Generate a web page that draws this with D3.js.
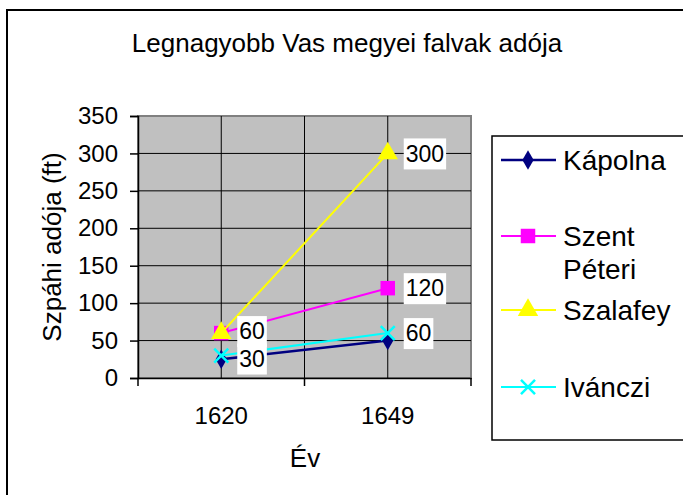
<!DOCTYPE html>
<html>
<head>
<meta charset="utf-8">
<script src="https://cdn.jsdelivr.net/npm/d3@7"></script>
<style>
  body { margin: 0; background: #fff; }
  text { font-family: "Liberation Sans", Arial, sans-serif; fill: #000; }
</style>
</head>
<body>
<svg id="chart" width="683" height="495"></svg>
<script>
const years = ['1620', '1649'];
const seriesNames = ['Kápolna', 'Szent Péteri', 'Szalafey', 'Ivánczi'];
const kapolna = [25, 50];
const szentPeteri = [60, 120];
const szalafey = [60, 300];
const ivanczi = [30, 60];
const yTicks = [0, 50, 100, 150, 200, 250, 300, 350];
// which points carry a data label: [series index, year index]
const labelPoints = [[2, 0], [3, 0], [2, 1], [1, 1], [3, 1]];

const seriesValues = [kapolna, szentPeteri, szalafey, ivanczi];
const colors = ['#000080', '#ff00ff', '#ffff00', '#00ffff'];
const symbols = [d3.symbolDiamond, d3.symbolSquare, d3.symbolTriangle, d3.symbolX];
const symSizes = [110, 210, 180, 130];

const svg = d3.select('#chart');
const plot = { left: 138, right: 471, top: 116, bottom: 378 };

// outer chart border
svg.append('rect')
  .attr('x', 7).attr('y', 10).attr('width', 700).attr('height', 500)
  .attr('fill', '#fff').attr('stroke', '#000').attr('stroke-width', 2);

svg.append('text')
  .attr('x', 347).attr('y', 52)
  .attr('text-anchor', 'middle')
  .style('font-size', '26px')
  .text('Legnagyobb Vas megyei falvak adója');

const xScale = d3.scaleBand().domain(years).range([plot.left, plot.right]).padding(0);
const yScale = d3.scaleLinear().domain([0, 350]).range([plot.bottom, plot.top]);

const g = svg.append('g');

g.append('rect')
  .attr('x', plot.left).attr('y', plot.top)
  .attr('width', plot.right - plot.left).attr('height', plot.bottom - plot.top)
  .attr('fill', '#c0c0c0').attr('stroke', '#808080').attr('stroke-width', 2);

// horizontal gridlines
g.selectAll('.hgrid')
  .data(yTicks.filter(d => d > 0 && d < 350))
  .enter().append('line')
  .attr('x1', plot.left).attr('x2', plot.right)
  .attr('y1', d => yScale(d)).attr('y2', d => yScale(d))
  .attr('stroke', '#000').attr('stroke-width', 1);

// vertical gridlines at category centers and between them
const vgrid = years.map(d => xScale(d) + xScale.bandwidth() / 2)
  .concat(years.slice(1).map(d => xScale(d)));
g.selectAll('.vgrid')
  .data(vgrid)
  .enter().append('line')
  .attr('x1', d => d).attr('x2', d => d)
  .attr('y1', plot.top).attr('y2', plot.bottom)
  .attr('stroke', '#000').attr('stroke-width', 1);

// y axis
const yAxis = d3.axisLeft(yScale).tickValues(yTicks).tickSize(8).tickPadding(12);
const gY = g.append('g').attr('transform', `translate(${plot.left},0)`).call(yAxis);
gY.select('.domain').attr('stroke', '#000').attr('stroke-width', 1.5);
gY.selectAll('.tick line').attr('stroke', '#000').attr('stroke-width', 1.5);
gY.selectAll('text').style('font-size', '24px').style('font-family', '"Liberation Sans", Arial, sans-serif');

// x axis: ticks between categories
const xAxis = d3.axisBottom(xScale).tickSize(0).tickPadding(29);
const gX = g.append('g').attr('transform', `translate(0,${plot.bottom})`).call(xAxis);
gX.select('.domain').attr('stroke', '#000').attr('stroke-width', 1.5);
gX.selectAll('text').style('font-size', '24px').style('font-family', '"Liberation Sans", Arial, sans-serif');
g.selectAll('.xtick')
  .data(years.map(d => xScale(d)).concat([plot.right]))
  .enter().append('line')
  .attr('x1', d => d).attr('x2', d => d)
  .attr('y1', plot.bottom).attr('y2', plot.bottom + 8)
  .attr('stroke', '#000').attr('stroke-width', 1.5);

// axis titles
svg.append('text')
  .attr('transform', 'translate(61,247) rotate(-90)')
  .attr('text-anchor', 'middle')
  .style('font-size', '26px')
  .text('Szpáhi adója (ft)');
svg.append('text')
  .attr('x', 305).attr('y', 467)
  .attr('text-anchor', 'middle')
  .style('font-size', '26px')
  .text('Év');

const cx = i => xScale(years[i]) + xScale.bandwidth() / 2;

const line = d3.line()
  .x((d, i) => cx(i))
  .y(d => yScale(d));

seriesValues.forEach((vals, s) => {
  g.append('path')
    .datum(vals)
    .attr('d', line)
    .attr('fill', 'none')
    .attr('stroke', colors[s])
    .attr('stroke-width', s === 0 ? 2.5 : 2);
  g.selectAll('.m' + s)
    .data(vals)
    .enter().append('path')
    .attr('transform', (d, i) => `translate(${cx(i)},${yScale(d)})`)
    .attr('d', d3.symbol().type(symbols[s]).size(symSizes[s]))
    .attr('fill', s === 3 ? 'none' : colors[s])
    .attr('stroke', colors[s])
    .attr('stroke-width', s === 3 ? 2.5 : 0);
});

// data labels with white background; the two close 1620 labels are pushed apart a little
labelPoints.forEach(([s, i]) => {
  const v = seriesValues[s][i];
  const px = cx(i);
  let py = yScale(v);
  if (i === 0) py += (s === 2 ? -2 : 3);
  const lg = g.append('g');
  const t = lg.append('text')
    .attr('x', px + 18).attr('y', py)
    .attr('dy', '0.36em')
    .style('font-size', '23px')
    .text(v);
  const w = t.node().getComputedTextLength();
  lg.insert('rect', 'text')
    .attr('x', px + 16).attr('y', py - 15)
    .attr('width', w + 4).attr('height', 31)
    .attr('fill', '#fff');
});

// legend
svg.append('rect')
  .attr('x', 492).attr('y', 136).attr('width', 220).attr('height', 304)
  .attr('fill', '#fff').attr('stroke', '#000').attr('stroke-width', 1.5);

const legendY = [160, 236, 310, 387];
seriesNames.forEach((name, s) => {
  const ly = legendY[s];
  svg.append('line')
    .attr('x1', 501).attr('x2', 556).attr('y1', ly).attr('y2', ly)
    .attr('stroke', colors[s]).attr('stroke-width', s === 0 ? 2.5 : 2);
  svg.append('path')
    .attr('transform', `translate(528,${ly})`)
    .attr('d', d3.symbol().type(symbols[s]).size(symSizes[s]))
    .attr('fill', s === 3 ? 'none' : colors[s])
    .attr('stroke', colors[s])
    .attr('stroke-width', s === 3 ? 2.5 : 0);
  const words = name.split(' ');
  const txt = svg.append('text')
    .attr('x', 563).attr('y', ly)
    .style('font-size', '28px');
  words.forEach((w, k) => {
    txt.append('tspan')
      .attr('x', 563)
      .attr('dy', k === 0 ? '0.36em' : '1.18em')
      .text(w);
  });
});
</script>
</body>
</html>
